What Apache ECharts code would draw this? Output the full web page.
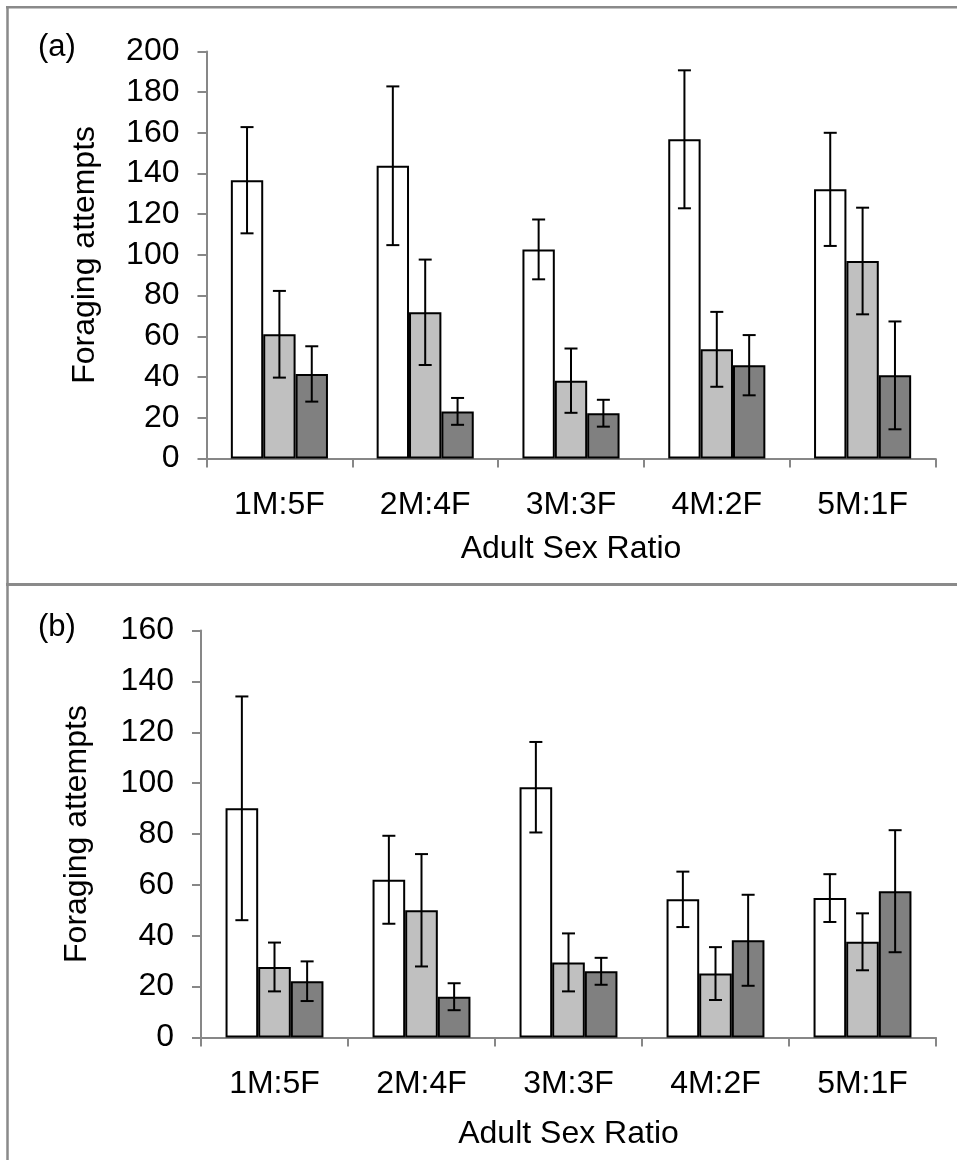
<!DOCTYPE html>
<html>
<head>
<meta charset="utf-8">
<script src="https://cdn.jsdelivr.net/npm/echarts@6/dist/echarts.min.js"></script>
<style>
  html, body { margin: 0; padding: 0; background: #ffffff; }
  #chart { width: 957px; height: 1160px; }
</style>
</head>
<body>
<div id="chart"></div>
<script>
// Adult sex ratio treatments (x categories)
const categories = ['1M:5F', '2M:4F', '3M:3F', '4M:2F', '5M:1F'];

// Panel (a): mean foraging attempts and standard errors
const aWhite     = [136.7, 143.8, 102.7, 156.8, 132.2];
const aWhiteErr  = [26.1, 39.0, 14.7, 33.9, 27.8];
const aLight     = [61.0, 71.8, 38.2, 53.6, 97.0];
const aLightErr  = [21.3, 25.9, 15.8, 18.4, 26.2];
const aDark      = [41.5, 23.1, 22.2, 45.8, 40.8];
const aDarkErr   = [13.6, 6.6, 6.6, 14.8, 26.5];

// Panel (b): mean foraging attempts and standard errors
const bWhite     = [90.1, 62.0, 98.4, 54.3, 54.8];
const bWhiteErr  = [44.0, 17.3, 17.8, 10.9, 9.4];
const bLight     = [27.7, 50.0, 29.5, 25.1, 37.6];
const bLightErr  = [9.6, 22.1, 11.4, 10.4, 11.2];
const bDark      = [22.1, 16.0, 26.0, 38.2, 57.5];
const bDarkErr   = [7.8, 5.3, 5.3, 17.9, 24.0];

// Y axis ranges
const aYMax = 200;
const bYMax = 160;
const yStep = 20;

const FONT = 'Liberation Sans, Arial, sans-serif';
const FS = 32;
const AXIS_GRAY = '#878787';
const BAR_RATIO = 0.222;
const fills = ['#ffffff', '#c0c0c0', '#808080'];

function xAxisFor(gridIndex, nameGap) {
  return {
    type: 'category', gridIndex: gridIndex, data: categories,
    axisLine: { lineStyle: { color: AXIS_GRAY, width: 2 } },
    axisTick: { show: true, length: 9, lineStyle: { color: AXIS_GRAY, width: 2 } },
    axisLabel: { color: '#000', fontFamily: FONT, fontSize: FS, margin: 31 },
    name: 'Adult Sex Ratio', nameLocation: 'middle', nameGap: nameGap,
    nameTextStyle: { color: '#000', fontFamily: FONT, fontSize: FS }
  };
}

function yAxisFor(gridIndex, max, nameGap) {
  return {
    type: 'value', gridIndex: gridIndex, min: 0, max: max, interval: yStep,
    axisLine: { show: true, lineStyle: { color: AXIS_GRAY, width: 2 } },
    axisTick: { show: true, length: 9, lineStyle: { color: AXIS_GRAY, width: 2 } },
    splitLine: { show: false },
    axisLabel: { color: '#000', fontFamily: FONT, fontSize: FS, margin: 27 },
    name: 'Foraging attempts', nameLocation: 'middle', nameRotate: 90, nameGap: nameGap,
    nameTextStyle: { color: '#000', fontFamily: FONT, fontSize: FS }
  };
}

function barSeries(gridIndex, values, slot) {
  return {
    type: 'bar', xAxisIndex: gridIndex, yAxisIndex: gridIndex,
    data: values, barWidth: (BAR_RATIO * 100) + '%', barGap: '0%',
    itemStyle: { color: fills[slot], borderColor: '#000', borderWidth: 2 },
    emphasis: { disabled: true }, silent: true, z: 2
  };
}

// Error bars: vertical whisker with caps, placed over the matching bar slot
function errorSeries(gridIndex, means, errs, slot) {
  return {
    type: 'custom', xAxisIndex: gridIndex, yAxisIndex: gridIndex,
    data: means.map((m, i) => [i, m - errs[i], m + errs[i]]),
    silent: true, z: 5,
    renderItem: function (params, api) {
      const band = api.size([1, 0])[0];
      const off = (slot - 1) * band * BAR_RATIO;
      const lo = api.coord([api.value(0), api.value(1)]);
      const hi = api.coord([api.value(0), api.value(2)]);
      const x = lo[0] + off;
      const cap = 6.5;
      const st = { stroke: '#000', lineWidth: 2 };
      return {
        type: 'group',
        children: [
          { type: 'line', shape: { x1: x, y1: hi[1], x2: x, y2: lo[1] }, style: st },
          { type: 'line', shape: { x1: x - cap, y1: hi[1], x2: x + cap, y2: hi[1] }, style: st },
          { type: 'line', shape: { x1: x - cap, y1: lo[1], x2: x + cap, y2: lo[1] }, style: st }
        ]
      };
    }
  };
}

const chart = echarts.init(document.getElementById('chart'), null, { renderer: 'canvas' });

chart.setOption({
  animation: false,
  backgroundColor: '#ffffff',
  grid: [
    { left: 206.5, top: 51.4, width: 729, height: 407 },
    { left: 201, top: 630.6, width: 735, height: 406.8 }
  ],
  xAxis: [xAxisFor(0, 75), xAxisFor(1, 81)],
  yAxis: [yAxisFor(0, aYMax, 105), yAxisFor(1, bYMax, 108)],
  series: [
    barSeries(0, aWhite, 0), barSeries(0, aLight, 1), barSeries(0, aDark, 2),
    errorSeries(0, aWhite, aWhiteErr, 0), errorSeries(0, aLight, aLightErr, 1), errorSeries(0, aDark, aDarkErr, 2),
    barSeries(1, bWhite, 0), barSeries(1, bLight, 1), barSeries(1, bDark, 2),
    errorSeries(1, bWhite, bWhiteErr, 0), errorSeries(1, bLight, bLightErr, 1), errorSeries(1, bDark, bDarkErr, 2)
  ],
  graphic: [
    // panel frames
    { type: 'line', shape: { x1: 6, y1: 7.3, x2: 957, y2: 7.3 }, style: { stroke: '#8a8a8a', lineWidth: 2.5 }, silent: true },
    { type: 'line', shape: { x1: 7.5, y1: 6, x2: 7.5, y2: 1160 }, style: { stroke: '#8a8a8a', lineWidth: 2.5 }, silent: true },
    { type: 'line', shape: { x1: 6, y1: 584.5, x2: 957, y2: 584.5 }, style: { stroke: '#8a8a8a', lineWidth: 3 }, silent: true },
    // panel letters
    { type: 'text', left: 38, top: 32, style: { text: '(a)', fill: '#000', font: '31px ' + FONT }, silent: true },
    { type: 'text', left: 38, top: 612, style: { text: '(b)', fill: '#000', font: '31px ' + FONT }, silent: true }
  ]
});
</script>
</body>
</html>
